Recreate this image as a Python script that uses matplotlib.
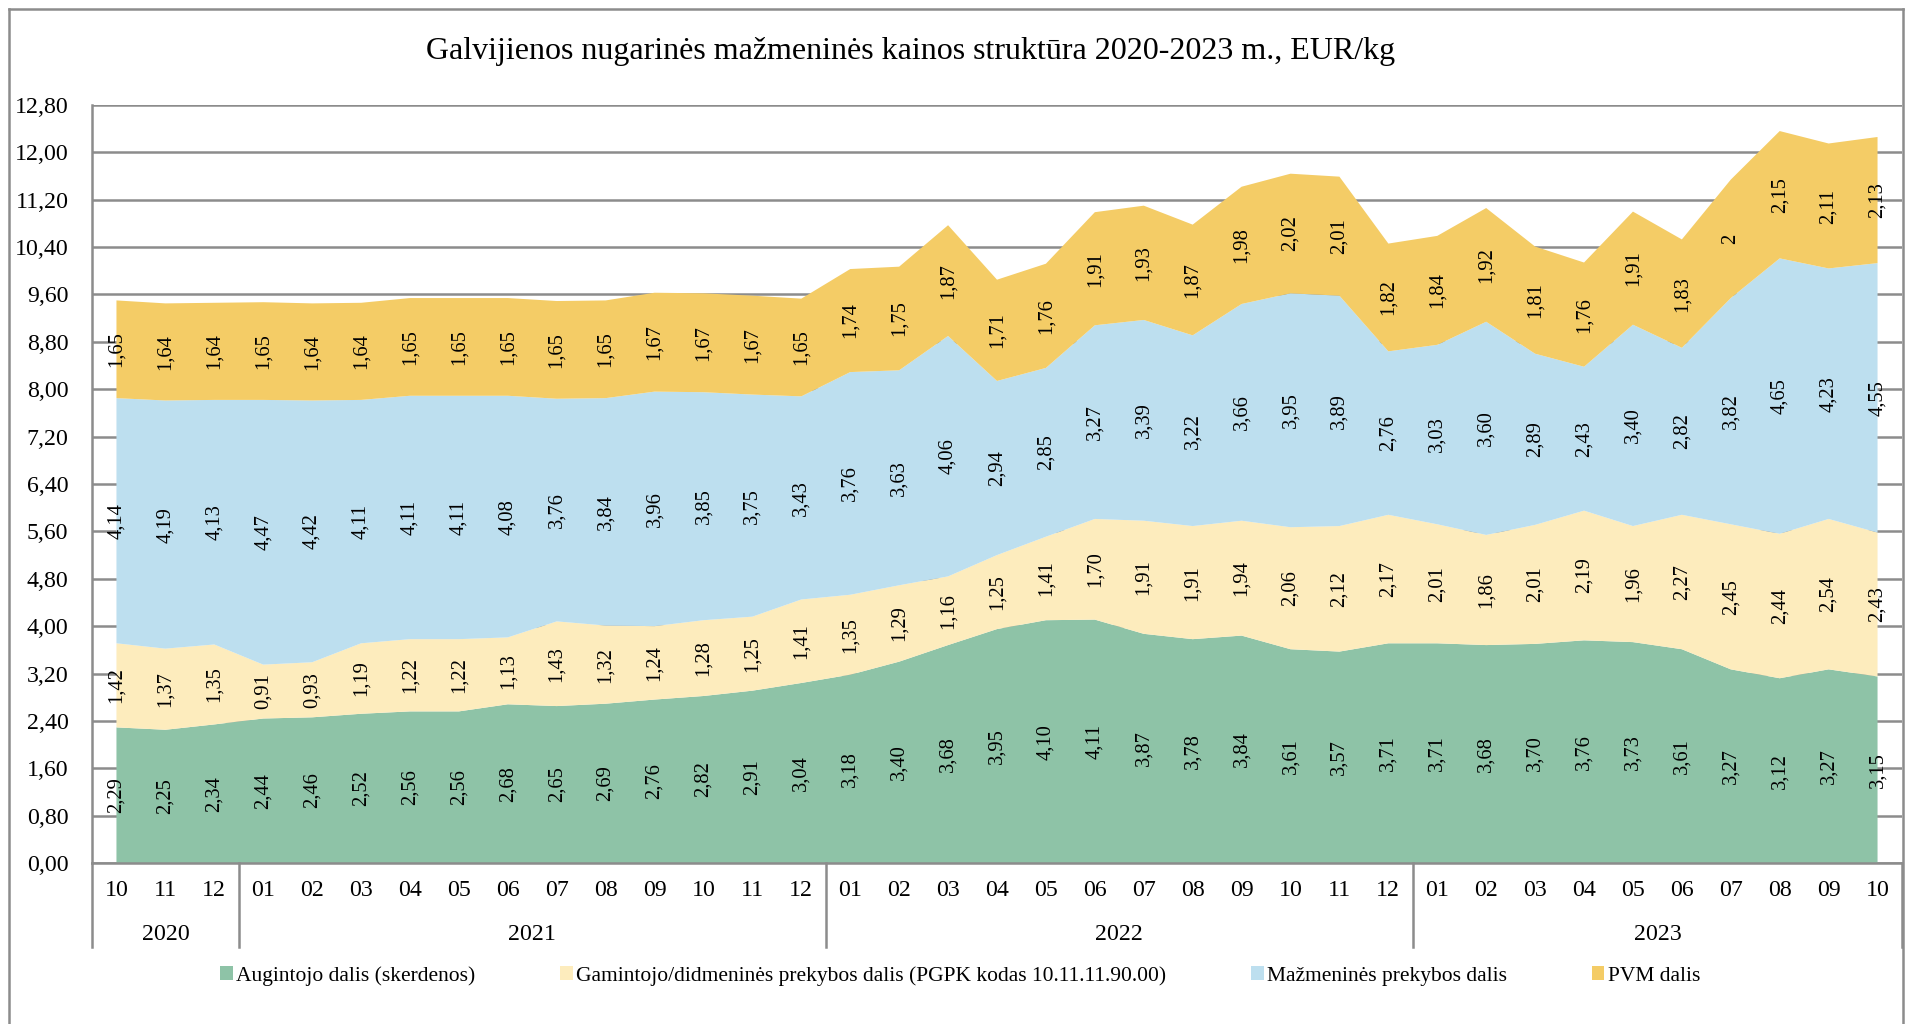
import numpy as np
import matplotlib
matplotlib.use('Agg')
from matplotlib import pyplot as plt
from matplotlib.patches import Patch
from matplotlib.lines import Line2D
import matplotlib.transforms as mtransforms

plt.rcParams['font.family'] = ['Liberation Serif', 'DejaVu Serif']

# months 2020-10 .. 2023-10
months = ['10', '11', '12',
          '01', '02', '03', '04', '05', '06', '07', '08', '09', '10', '11', '12',
          '01', '02', '03', '04', '05', '06', '07', '08', '09', '10', '11', '12',
          '01', '02', '03', '04', '05', '06', '07', '08', '09', '10']
years = ['2020', '2021', '2022', '2023']
year_counts = [3, 12, 12, 10]

augintojo = [2.29, 2.25, 2.34,
             2.44, 2.46, 2.52, 2.56, 2.56, 2.68, 2.65, 2.69, 2.76, 2.82, 2.91, 3.04,
             3.18, 3.40, 3.68, 3.95, 4.10, 4.11, 3.87, 3.78, 3.84, 3.61, 3.57, 3.71,
             3.71, 3.68, 3.70, 3.76, 3.73, 3.61, 3.27, 3.12, 3.27, 3.15]
gamintojo = [1.42, 1.37, 1.35,
             0.91, 0.93, 1.19, 1.22, 1.22, 1.13, 1.43, 1.32, 1.24, 1.28, 1.25, 1.41,
             1.35, 1.29, 1.16, 1.25, 1.41, 1.70, 1.91, 1.91, 1.94, 2.06, 2.12, 2.17,
             2.01, 1.86, 2.01, 2.19, 1.96, 2.27, 2.45, 2.44, 2.54, 2.43]
mazmenine = [4.14, 4.19, 4.13,
             4.47, 4.42, 4.11, 4.11, 4.11, 4.08, 3.76, 3.84, 3.96, 3.85, 3.75, 3.43,
             3.76, 3.63, 4.06, 2.94, 2.85, 3.27, 3.39, 3.22, 3.66, 3.95, 3.89, 2.76,
             3.03, 3.60, 2.89, 2.43, 3.40, 2.82, 3.82, 4.65, 4.23, 4.55]
pvm = [1.65, 1.64, 1.64,
       1.65, 1.64, 1.64, 1.65, 1.65, 1.65, 1.65, 1.65, 1.67, 1.67, 1.67, 1.65,
       1.74, 1.75, 1.87, 1.71, 1.76, 1.91, 1.93, 1.87, 1.98, 2.02, 2.01, 1.82,
       1.84, 1.92, 1.81, 1.76, 1.91, 1.83, 2, 2.15, 2.11, 2.13]

series_names = ['Augintojo dalis (skerdenos)',
                'Gamintojo/didmeninės prekybos dalis (PGPK kodas 10.11.11.90.00)',
                'Mažmeninės prekybos dalis',
                'PVM dalis']
colors = ['#8EC3A7', '#FDECBD', '#BDDFEF', '#F4CC66']
grid_col = '#8C8C8C'


def fmt(v):
    if float(v).is_integer():
        return str(int(v))
    return f'{v:.2f}'.replace('.', ',')


W, H = 1908, 1024
fig = plt.figure(figsize=(W / 100, H / 100), dpi=100)
ax = fig.add_axes([92 / W, 1 - 863 / H, (1902 - 92) / W, (863 - 105) / H])

x = np.arange(len(months))
data = [augintojo, gamintojo, mazmenine, pvm]
ax.stackplot(x, *data, colors=colors, zorder=2, linewidth=0)

# data labels
base = np.zeros(len(x))
for vals in data:
    vals = np.array(vals, dtype=float)
    for i, v in enumerate(vals):
        ax.text(i, base[i] + v / 2, fmt(v), rotation=90, ha='center', va='center',
                fontsize=14.8, color='#000000', zorder=5, rotation_mode='anchor')
    base += vals

ax.set_xlim(-0.5, len(x) - 0.5)
ax.set_ylim(0, 12.8)
yt = np.arange(0, 12.81, 0.8)
ax.set_yticks(yt)
ax.set_yticklabels([f'{t:.2f}'.replace('.', ',') for t in yt], fontsize=17.2)
ax.tick_params(axis='y', length=0, pad=17)
ax.yaxis.grid(True, color=grid_col, linewidth=1.8, zorder=0)
ax.set_axisbelow(True)
ax.set_xticks([])

for s in ['top', 'right']:
    ax.spines[s].set_visible(False)
for s in ['left', 'bottom']:
    ax.spines[s].set_color(grid_col)
    ax.spines[s].set_linewidth(1.8)
ax.spines['bottom'].set_zorder(4)

# category axis: months and years
trans = mtransforms.blended_transform_factory(ax.transData, ax.transAxes)
ah = 863 - 105
for i, m in enumerate(months):
    ax.text(i, -(891 - 863) / ah, m, transform=trans, ha='center', va='center', fontsize=17.2)

start = 0
seps = [-0.5]
for yr, n in zip(years, year_counts):
    ax.text(start + (n - 1) / 2, -(934 - 863) / ah, yr, transform=trans,
            ha='center', va='center', fontsize=17.2)
    start += n
    seps.append(start - 0.5)
for sx in seps:
    ax.add_line(Line2D([sx, sx], [0, -(947 - 863) / ah], transform=trans,
                       color=grid_col, linewidth=1.8, clip_on=False))

fig.text(911 / W, 1 - 51 / H, 'Galvijienos nugarinės mažmeninės kainos struktūra 2020-2023 m., EUR/kg',
         ha='center', va='center', fontsize=23)

handles = [Patch(facecolor=c, edgecolor='none') for c in colors]
fig.legend(handles, series_names, loc='center', bbox_to_anchor=(960 / W, 1 - 976 / H),
           ncol=4, frameon=False, fontsize=15.5, handlelength=0.6, handleheight=0.6,
           handletextpad=0.15, columnspacing=3.93)

# outer chart border
for xs, ys in [([9, 9], [9, H + 5]), ([9, 1903], [9, 9]), ([1903, 1903], [9, H + 5])]:
    fig.add_artist(Line2D([v / W for v in xs], [1 - v / H for v in ys],
                          transform=fig.transFigure, color=grid_col, linewidth=1.8))

plt.savefig('out.png', dpi=100)
